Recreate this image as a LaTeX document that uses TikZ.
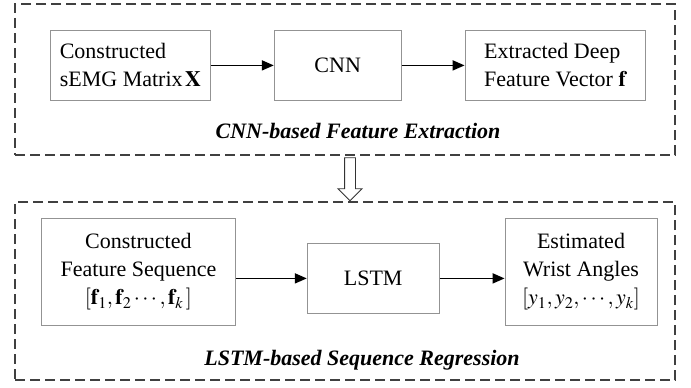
\documentclass[tikz,border=0pt]{standalone}
\usepackage{mathptmx}
\usepackage{fontspec}
\setmainfont{Liberation Serif}
\usetikzlibrary{positioning,shapes,arrows,arrows.meta}
\tikzstyle{block}=[rectangle, draw=gray!85, line width=0.8pt, fill=white,
        font=\fontsize{22}{28}\selectfont, inner sep=4pt]
\tikzstyle{frame}=[rectangle, draw=black!75, line width=1.4pt, dash pattern=on 10pt off 5pt]
\tikzstyle{title}=[font=\fontsize{22}{27}\selectfont\bfseries\itshape]
\tikzstyle{line}=[draw, line width=1.8pt, -{Triangle[length=12pt,width=10pt]}]
\tikzstyle{hollow}=[single arrow, draw=black!80, line width=0.9pt, shape border rotate=270,
        minimum height=43pt, minimum width=23pt, inner sep=5pt, single arrow head extend=6.5pt]

\begin{document}
\begin{tikzpicture}[x=1pt, y=-1pt]
        \useasboundingbox (0,0) rectangle (691,388);
        % dashed stages
        \node (topframe) [frame, minimum width=660pt, minimum height=151pt] at (345,79.5) {};
        \node (botframe) [frame, minimum width=660pt, minimum height=178pt] at (345,291) {};
        \node (down) [hollow] at (350,176.5) {};
        % CNN stage
        \node (matrix) [block, anchor=north west, minimum width=160pt, minimum height=70pt, align=left] at (50,30)
        {Constructed\\sEMG Matrix$\,\mathbf{X}$};
        \node (cnn) [block, minimum width=127pt, minimum height=70pt, right=63pt of matrix] {CNN};
        \node (feat) [block, minimum width=180pt, minimum height=70pt, right=63pt of cnn, align=left]
        {Extracted Deep\\Feature Vector $\mathbf{f}$};
        \node (toptitle) [title] at (358,131) {CNN-based Feature Extraction};
        \draw[line] (matrix) -- (cnn);
        \draw[line] (cnn) -- (feat);
        % LSTM stage
        \node (seq) [block, anchor=north west, minimum width=194pt, minimum height=107pt, align=center] at (41,218)
        {Constructed\\Feature Sequence\\$[\mathbf{f}_1,\mathbf{f}_2\cdots,\mathbf{f}_k\,]$};
        \node (lstm) [block, minimum width=132pt, minimum height=70pt, right=71pt of seq, yshift=-6.5pt] {LSTM};
        \node (angles) [block, minimum width=152pt, minimum height=107pt, right=65pt of lstm, yshift=6.5pt, align=center]
        {Estimated\\Wrist Angles\\$[y_1,y_2,\cdots,y_k]$};
        \node (bottitle) [title] at (362,360) {LSTM-based Sequence Regression};
        \draw[line] (seq.east |- lstm.west) -- (lstm.west);
        \draw[line] (lstm.east) -- (angles.west |- lstm.east);
\end{tikzpicture}
\end{document}
